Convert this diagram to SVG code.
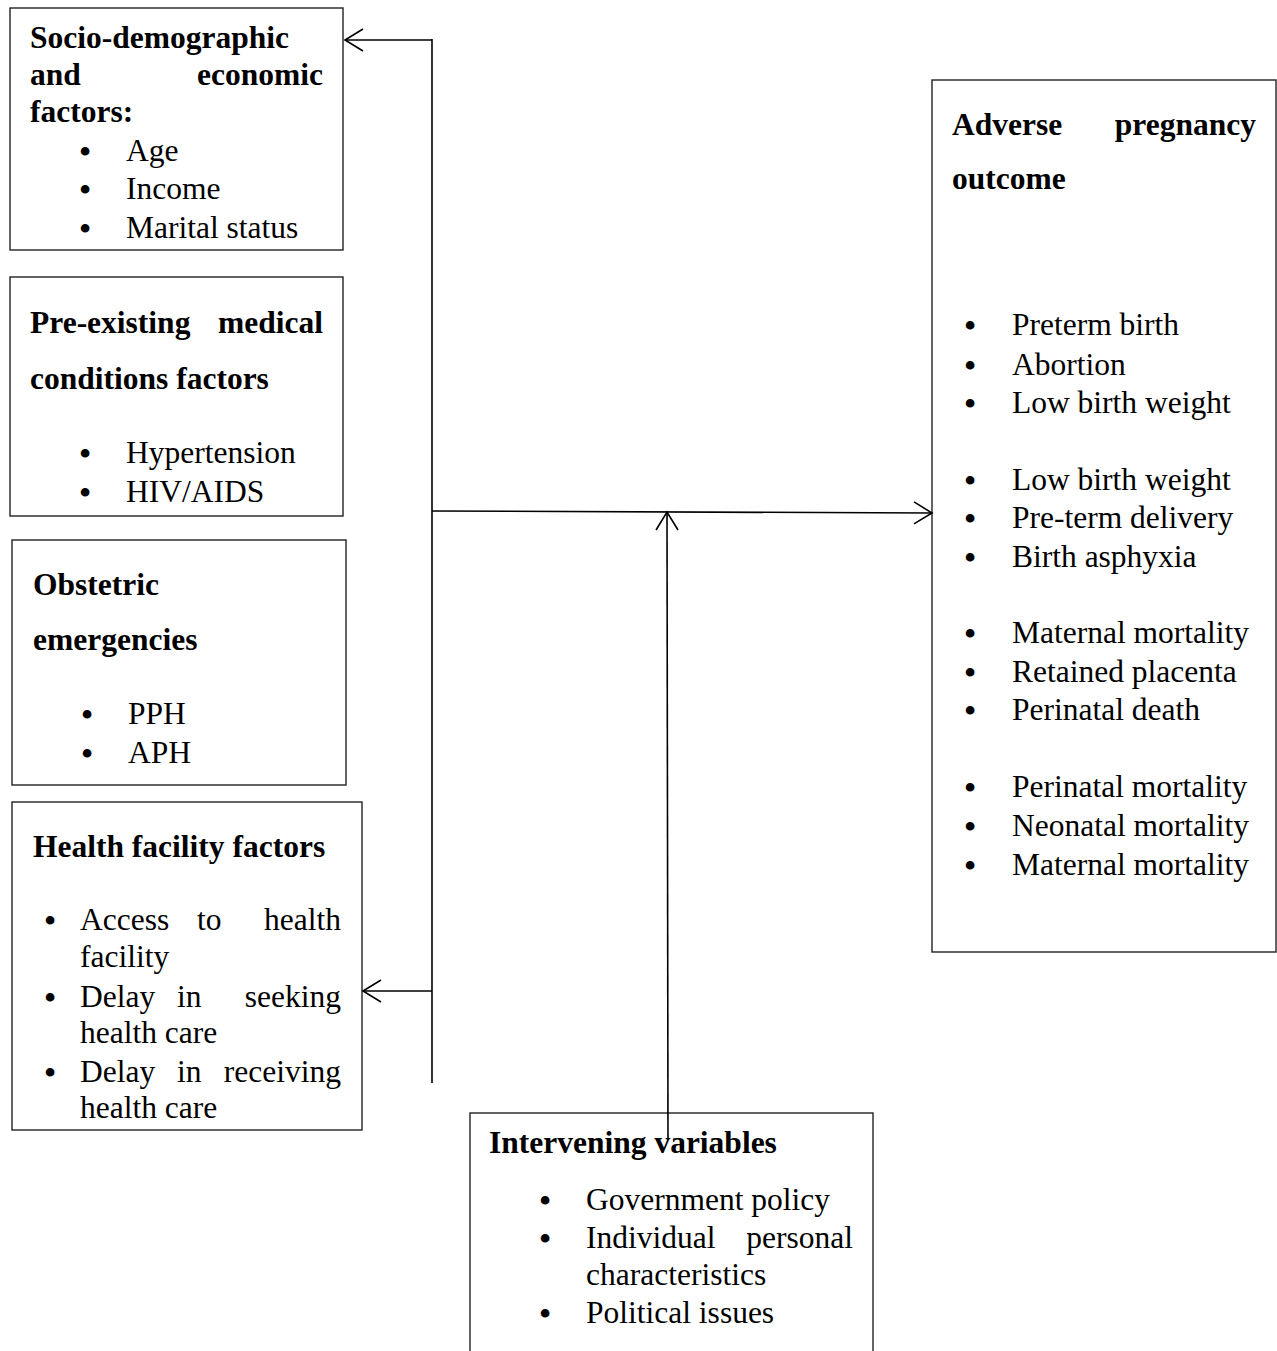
<svg xmlns="http://www.w3.org/2000/svg" width="1277" height="1351" viewBox="0 0 1277 1351">
<style>
.box{fill:#fff;stroke:#222;stroke-width:1.4}
text{font-family:"Liberation Serif","Times New Roman",serif;font-size:31.5px;fill:#000}
.h{font-weight:bold}
.b{font-size:32px;font-weight:bold;text-anchor:middle}
.e{text-anchor:end}
.c{fill:none;stroke:#000;stroke-width:1.6}
</style>
<defs>
<marker id="ah" markerWidth="22" markerHeight="24" refX="19" refY="12" orient="auto" markerUnits="userSpaceOnUse">
<path d="M1,1 L19,12 L1,23" fill="none" stroke="#000" stroke-width="1.6"/>
</marker>
</defs>
<rect width="1277" height="1351" fill="#fff"/>

<g id="socio">
<rect class="box" x="10" y="8" width="333" height="242"/>
<text class="h" x="30" y="48">Socio-demographic</text>
<text class="h" x="30" y="85">and</text>
<text class="h e" x="323" y="85">economic</text>
<text class="h" x="30" y="122">factors:</text>
<text class="b" x="85" y="162">•</text><text x="126" y="161">Age</text>
<text class="b" x="85" y="200">•</text><text x="126" y="199">Income</text>
<text class="b" x="85" y="239">•</text><text x="126" y="238">Marital status</text>
</g>

<g id="medical">
<rect class="box" x="10" y="277" width="333" height="239"/>
<text class="h" x="30" y="333">Pre-existing</text>
<text class="h e" x="323" y="333">medical</text>
<text class="h" x="30" y="389">conditions factors</text>
<text class="b" x="85" y="464">•</text><text x="126" y="463">Hypertension</text>
<text class="b" x="85" y="503">•</text><text x="126" y="502">HIV/AIDS</text>
</g>

<g id="obstetric">
<rect class="box" x="12" y="540" width="334" height="245"/>
<text class="h" x="33" y="595">Obstetric</text>
<text class="h" x="33" y="650">emergencies</text>
<text class="b" x="87" y="725">•</text><text x="128" y="724">PPH</text>
<text class="b" x="87" y="764">•</text><text x="128" y="763">APH</text>
</g>

<g id="facility">
<rect class="box" x="12" y="802" width="350" height="328"/>
<text class="h" x="33" y="857">Health facility factors</text>
<text class="b" x="50" y="931">•</text>
<text x="80" y="930">Access</text><text x="197" y="930">to</text><text class="e" x="341" y="930">health</text>
<text x="80" y="967">facility</text>
<text class="b" x="50" y="1008">•</text>
<text x="80" y="1007">Delay</text><text x="177" y="1007">in</text><text class="e" x="341" y="1007">seeking</text>
<text x="80" y="1043">health care</text>
<text class="b" x="50" y="1083">•</text>
<text x="80" y="1082">Delay</text><text x="177" y="1082">in</text><text class="e" x="341" y="1082">receiving</text>
<text x="80" y="1118">health care</text>
</g>

<g id="intervening">
<rect class="box" x="470" y="1113" width="403" height="250"/>
<text class="h" x="489" y="1153">Intervening variables</text>
<text class="b" x="545" y="1211">•</text><text x="586" y="1210">Government policy</text>
<text class="b" x="545" y="1249">•</text><text x="586" y="1248">Individual</text><text class="e" x="853" y="1248">personal</text>
<text x="586" y="1285">characteristics</text>
<text class="b" x="545" y="1324">•</text><text x="586" y="1323">Political issues</text>
</g>

<g id="outcome">
<rect class="box" x="932" y="80" width="344" height="872"/>
<text class="h" x="952" y="135">Adverse</text>
<text class="h e" x="1256" y="135">pregnancy</text>
<text class="h" x="952" y="189">outcome</text>
<text class="b" x="970" y="336">•</text><text x="1012" y="335">Preterm birth</text>
<text class="b" x="970" y="376">•</text><text x="1012" y="375">Abortion</text>
<text class="b" x="970" y="414">•</text><text x="1012" y="413">Low birth weight</text>
<text class="b" x="970" y="491">•</text><text x="1012" y="490">Low birth weight</text>
<text class="b" x="970" y="529">•</text><text x="1012" y="528">Pre-term delivery</text>
<text class="b" x="970" y="568">•</text><text x="1012" y="567">Birth asphyxia</text>
<text class="b" x="970" y="644">•</text><text x="1012" y="643">Maternal mortality</text>
<text class="b" x="970" y="683">•</text><text x="1012" y="682">Retained placenta</text>
<text class="b" x="970" y="721">•</text><text x="1012" y="720">Perinatal death</text>
<text class="b" x="970" y="798">•</text><text x="1012" y="797">Perinatal mortality</text>
<text class="b" x="970" y="837">•</text><text x="1012" y="836">Neonatal mortality</text>
<text class="b" x="970" y="876">•</text><text x="1012" y="875">Maternal mortality</text>
</g>

<g id="connectors">
<path class="c" d="M432,39 L432,1083"/>
<path class="c" d="M432,40 L345,40" marker-end="url(#ah)"/>
<path class="c" d="M432,991 L363,991" marker-end="url(#ah)"/>
<path class="c" d="M432,511 L932,513" marker-end="url(#ah)"/>
<path class="c" d="M668,1140 L667,512" marker-end="url(#ah)"/>
</g>
</svg>
